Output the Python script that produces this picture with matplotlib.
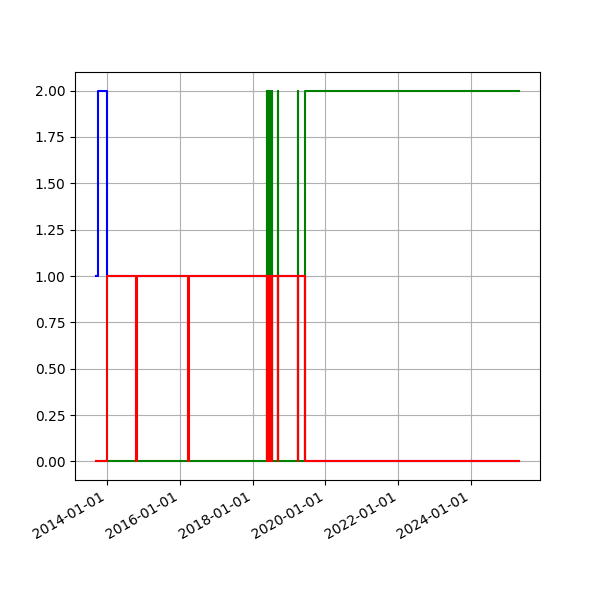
import matplotlib
matplotlib.use("Agg")
import matplotlib.pyplot as plt
import matplotlib.dates as mdates
import pandas as pd

# step data: value holds from each date until the next one
blue_dates = ["2013-09-12", "2013-09-26", "2014-01-01", "2019-06-10", "2025-04-25"]
blue_vals = [1, 2, 1, 0, 0]

red_dates = ["2013-09-12", "2014-01-01", "2014-10-20", "2014-10-25",
             "2016-03-25", "2016-03-30",
             "2018-05-22", "2018-05-27", "2018-06-01", "2018-06-06",
             "2018-06-11", "2018-06-16", "2018-06-21", "2018-06-26",
             "2018-07-01", "2018-07-06", "2018-07-10", "2018-07-15",
             "2018-09-12", "2018-09-16", "2019-04-01", "2019-04-05",
             "2019-06-10", "2025-04-25"]
red_vals = [0, 1, 0, 1,
            0, 1,
            0, 1, 0, 1,
            0, 1, 0, 1,
            0, 1, 0, 1,
            0, 1, 0, 1,
            0, 0]

green_dates = ["2013-09-12",
               "2018-05-22", "2018-05-27", "2018-06-01", "2018-06-06",
               "2018-06-11", "2018-06-16", "2018-06-21", "2018-06-26",
               "2018-07-01", "2018-07-06", "2018-07-10", "2018-07-15",
               "2018-09-12", "2018-09-16", "2019-04-01", "2019-04-05",
               "2019-06-10", "2025-04-25"]
green_vals = [0,
              2, 0, 2, 0,
              2, 0, 2, 0,
              2, 0, 2, 0,
              2, 0, 2, 0,
              2, 2]

fig, ax = plt.subplots(figsize=(6, 6), dpi=100)
ax.step(pd.to_datetime(blue_dates), blue_vals, where="post", color="blue")
ax.step(pd.to_datetime(green_dates), green_vals, where="post", color="green")
ax.step(pd.to_datetime(red_dates), red_vals, where="post", color="red")

ax.xaxis.set_major_locator(mdates.YearLocator(2))
ax.xaxis.set_major_formatter(mdates.DateFormatter("%Y-%m-%d"))
ax.grid(True)
fig.autofmt_xdate()

plt.savefig("out.png")
